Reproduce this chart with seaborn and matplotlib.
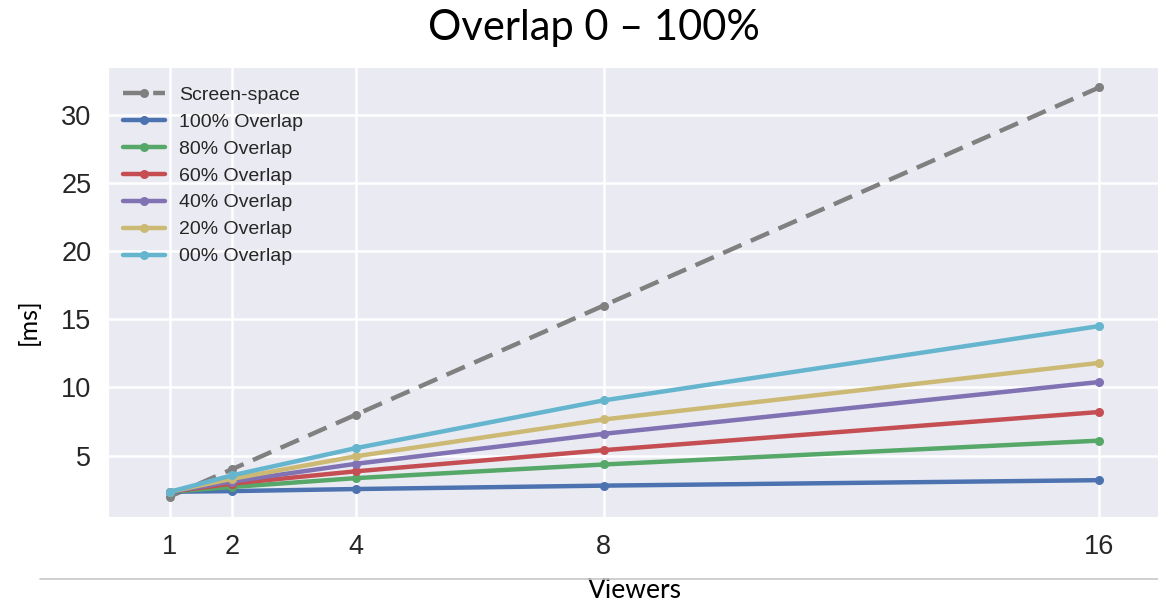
import matplotlib
matplotlib.use("Agg")
import matplotlib.pyplot as plt
from matplotlib.lines import Line2D
import seaborn as sns
import pandas as pd

# data
viewers = [1, 2, 4, 8, 16]
screen_space = [2.0, 4.0, 8.0, 16.0, 32.0]
overlap_100 = [2.35, 2.4, 2.55, 2.8, 3.2]
overlap_80 = [2.35, 2.7, 3.35, 4.35, 6.1]
overlap_60 = [2.35, 2.95, 3.85, 5.4, 8.2]
overlap_40 = [2.35, 3.1, 4.4, 6.6, 10.4]
overlap_20 = [2.35, 3.3, 4.95, 7.65, 11.8]
overlap_00 = [2.35, 3.55, 5.55, 9.05, 14.5]

series_names = ["Screen-space", "100% Overlap", "80% Overlap", "60% Overlap",
                "40% Overlap", "20% Overlap", "00% Overlap"]
series_values = [screen_space, overlap_100, overlap_80, overlap_60,
                 overlap_40, overlap_20, overlap_00]

rows = []
for name, vals in zip(series_names, series_values):
    for v, t in zip(viewers, vals):
        rows.append({"Viewers": v, "ms": t, "series": name})
df = pd.DataFrame(rows)

sns.set_style("darkgrid")
deep = sns.color_palette("deep6")
palette = dict(zip(series_names, ["#808080"] + list(deep)))
dashes = {n: (4.5, 2.3) if n == "Screen-space" else "" for n in series_names}
markers = {n: "o" for n in series_names}

fig = plt.figure(figsize=(11.58, 6.05), dpi=100)
ax = fig.add_axes([108 / 1158, 88 / 605, 1 - 108 / 1158, 450 / 605])

sns.lineplot(data=df, x="Viewers", y="ms", hue="series", style="series",
             hue_order=series_names, style_order=series_names,
             palette=palette, dashes=dashes, markers=markers,
             linewidth=3.2, markersize=6.5, markeredgewidth=0, ax=ax)

ax.set_xlim(0, 16.95)
ax.set_xticks(viewers)
ax.set_yticks([5, 10, 15, 20, 25, 30])
ax.grid(color="white", linewidth=1.8)
ax.tick_params(axis="both", length=0, labelsize=19.5, labelcolor="#262626")
ax.tick_params(axis="y", pad=12)
ax.tick_params(axis="x", pad=12)
for lab in ax.get_xticklabels() + ax.get_yticklabels():
    lab.set_family("Liberation Sans")

ax.set_xlabel("Viewers", family="Lato", fontsize=19, color="black", va="center")
ax.xaxis.set_label_coords(0.502, -0.164)
ax.set_ylabel("[ms]", family="Lato", fontsize=18, color="black", va="center")
ax.yaxis.set_label_coords(-0.076, 0.433)

leg = ax.legend(loc="upper left", bbox_to_anchor=(0, 0.99), frameon=False,
                handlelength=2.2, labelspacing=0.48, borderaxespad=0.35,
                handletextpad=0.7,
                prop={"family": "Liberation Sans", "size": 14})
for t in leg.get_texts():
    t.set_color("#262626")

fig.text(594 / 1158, 1 - 28 / 605, "Overlap 0 \u2013 100%", family="Lato",
         fontsize=30, ha="center", va="center", color="black")

fig.add_artist(Line2D([40 / 1158, 1.0], [1 - 579 / 605, 1 - 579 / 605],
                      transform=fig.transFigure, color="#c8c8c8", linewidth=1.2))

fig.savefig("out.png", dpi=100)
